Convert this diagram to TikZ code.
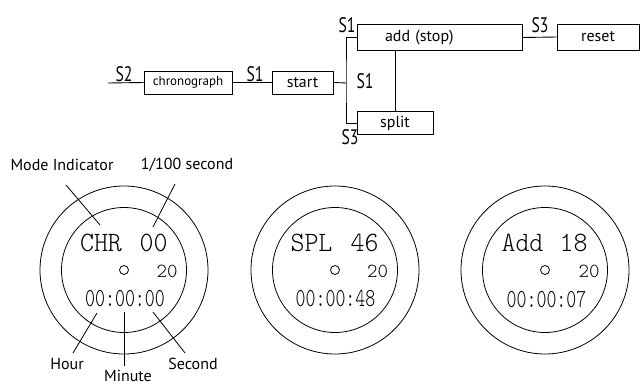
\documentclass[tikz,border=0pt]{standalone}
\usepackage{graphicx}
\usepackage{fontspec}
\setmainfont{PT Sans}
\newfontfamily\lcdfont{lmmonolt10-regular.otf}
\usetikzlibrary{positioning}

\newcommand{\narrow}[1]{\scalebox{0.75}[1]{#1}}
\newcommand{\lcdw}[1]{\scalebox{0.95}[1]{#1}}
\newcommand{\lcdt}[1]{\scalebox{0.73}[1]{#1}}

\tikzset{
    menubox/.style={draw, line width=0.9pt, inner sep=0pt, minimum height=23pt, font=\fontsize{16}{18}\selectfont},
    btn/.style={inner sep=0pt, font=\fontsize{21}{22}\selectfont},
    ring/.style={draw, circle, line width=0.8pt, inner sep=0pt},
    lcd/.style={inner sep=0pt, font=\lcdfont\fontsize{28}{28}\selectfont},
    lcdtime/.style={inner sep=0pt, font=\lcdfont\fontsize{26}{26}\selectfont},
    lcdsmall/.style={inner sep=0pt, font=\lcdfont\fontsize{20}{20}\selectfont},
    callout/.style={inner sep=0pt, font=\fontsize{16}{18}\selectfont}
}

\begin{document}
\begin{tikzpicture}[x=1pt, y=-1pt, line width=0.9pt]
        \useasboundingbox (0,0) rectangle (643,385);

        % menu sequence
        \node[menubox, minimum width=88pt, font=\fontsize{13}{15}\selectfont] (chrono) at (188,82.5) {chronograph};
        \node[menubox, minimum width=61pt] (start) at (302.5,82.5) {start};
        \node[menubox, minimum height=26pt, text width=165pt, align=left] (add) at (439.5,37.5) {\hspace*{28pt}add (stop)};
        \node[menubox, minimum width=76pt] (split) at (395,123) {split};
        \node[menubox, minimum width=82pt, minimum height=26pt] (reset) at (598,37) {reset};
        \coordinate (in) at (108,83);
        \coordinate (jn) at (346,83);

        \draw (in) -- (chrono.west);
        \draw (chrono.east) -- (start.west);
        \draw (start.east) -- (jn);
        \draw (add.west) -| (jn) |- (split.west);
        \draw (split.north) -- (split.north |- add.south);
        \draw (add.east) -- (reset.west);

        \node[btn] (s2) at (124,74) {\narrow{S2}};
        \node[btn] (s1a) at (255,74) {\narrow{S1}};
        \node[btn] (s1b) at (347,25) {\narrow{S1}};
        \node[btn] (s1c) at (365,81) {\narrow{S1}};
        \node[btn] (s3a) at (350,137) {\narrow{S3}};
        \node[btn] (s3b) at (540,25) {\narrow{S3}};

        % watch faces
        \node[ring, minimum size=168pt] (w1out) at (124,270) {};
        \node[ring, minimum size=125pt] (w1in) at (124,270) {};
        \node[lcd] (w1mode) at (101,243) {\lcdw{CHR}};
        \node[lcd] (w1hund) at (153.5,243) {\lcdw{00}};
        \node[ring, minimum size=9pt] (w1dot) at (124,270) {};
        \node[lcdsmall] (w1lap) at (167,271) {20};
        \node[lcdtime] (w1time) at (125,299) {\lcdt{00:00:00}};

        \node[ring, minimum size=168pt] (w2out) at (335,270) {};
        \node[ring, minimum size=125pt] (w2in) at (335,270) {};
        \node[lcd] (w2mode) at (311.5,243) {\lcdw{SPL}};
        \node[lcd] (w2hund) at (364.5,243) {\lcdw{46}};
        \node[ring, minimum size=9pt] (w2dot) at (335,270) {};
        \node[lcdsmall] (w2lap) at (377.5,271) {20};
        \node[lcdtime] (w2time) at (335.5,299) {\lcdt{00:00:48}};

        \node[ring, minimum size=168pt] (w3out) at (545,270) {};
        \node[ring, minimum size=125pt] (w3in) at (545,270) {};
        \node[lcd] (w3mode) at (522.5,243) {\lcdw{Add}};
        \node[lcd] (w3hund) at (573.5,243) {\lcdw{18}};
        \node[ring, minimum size=9pt] (w3dot) at (545,270) {};
        \node[lcdsmall] (w3lap) at (589,271) {20};
        \node[lcdtime] (w3time) at (546.5,299) {\lcdt{00:00:07}};

        % callouts
        \node[callout] (mode) at (62,165) {Mode Indicator};
        \node[callout] (hund) at (187,165) {1/100 second};
        \node[callout] (hour) at (67,364) {Hour};
        \node[callout] (minute) at (128,376) {Minute};
        \node[callout] (second) at (193,364) {Second};
        \coordinate (modeA) at (66,185);   \coordinate (modeB) at (100,225);
        \coordinate (hundA) at (175,184);  \coordinate (hundB) at (153,227);
        \coordinate (hourA) at (97,313);   \coordinate (hourB) at (73,353);
        \coordinate (minA) at (124,312);   \coordinate (minB) at (124,366);
        \coordinate (secA) at (153,312);   \coordinate (secB) at (185,353);
        \draw[line width=0.8pt] (modeA) -- (modeB);
        \draw[line width=0.8pt] (hundA) -- (hundB);
        \draw[line width=0.8pt] (hourA) -- (hourB);
        \draw[line width=0.8pt] (minA) -- (minB);
        \draw[line width=0.8pt] (secA) -- (secB);
\end{tikzpicture}
\end{document}
